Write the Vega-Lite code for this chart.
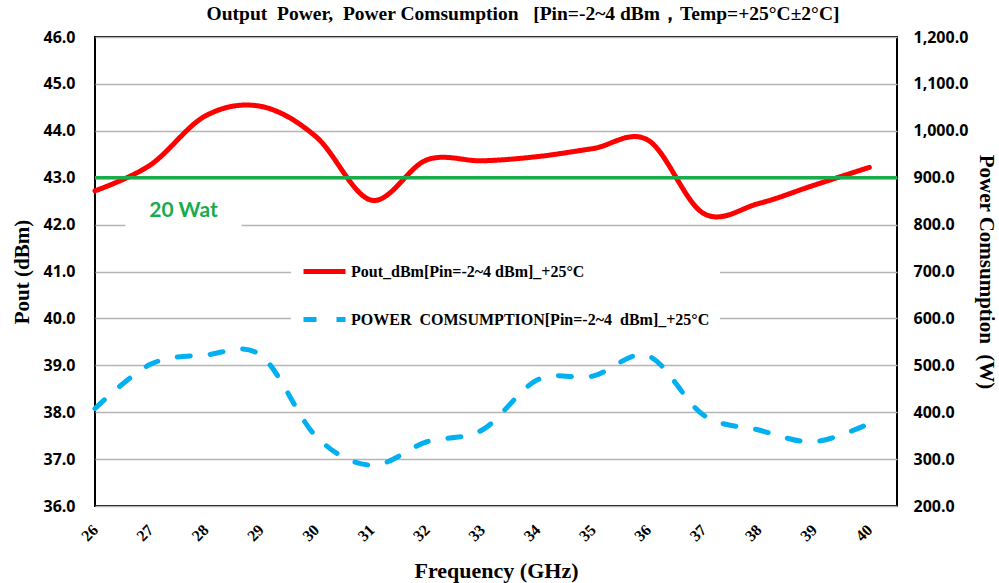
{
  "$schema": "https://vega.github.io/schema/vega-lite/v6.json",
  "width": 802,
  "height": 469,
  "autosize": {"type": "none"},
  "padding": {"left": 95, "top": 37, "right": 102, "bottom": 77},
  "background": "white",
  "title": {
    "text": "Output\u00a0 Power,\u00a0 Power Comsumption\u00a0\u00a0 [Pin=-2~4 dBm，Temp=+25°C±2°C]",
    "font": "Liberation Serif",
    "fontSize": 19.5,
    "fontWeight": "bold",
    "color": "#000000",
    "anchor": "middle",
    "dx": 27,
    "offset": 5
  },
  "datasets": {
    "pout": [
      {"freq": 26, "value": 42.72, "series": "Pout_dBm[Pin=-2~4 dBm]_+25°C"},
      {"freq": 27, "value": 43.27, "series": "Pout_dBm[Pin=-2~4 dBm]_+25°C"},
      {"freq": 28, "value": 44.32, "series": "Pout_dBm[Pin=-2~4 dBm]_+25°C"},
      {"freq": 29, "value": 44.52, "series": "Pout_dBm[Pin=-2~4 dBm]_+25°C"},
      {"freq": 30, "value": 43.87, "series": "Pout_dBm[Pin=-2~4 dBm]_+25°C"},
      {"freq": 31, "value": 42.52, "series": "Pout_dBm[Pin=-2~4 dBm]_+25°C"},
      {"freq": 32, "value": 43.38, "series": "Pout_dBm[Pin=-2~4 dBm]_+25°C"},
      {"freq": 33, "value": 43.36, "series": "Pout_dBm[Pin=-2~4 dBm]_+25°C"},
      {"freq": 34, "value": 43.45, "series": "Pout_dBm[Pin=-2~4 dBm]_+25°C"},
      {"freq": 35, "value": 43.62, "series": "Pout_dBm[Pin=-2~4 dBm]_+25°C"},
      {"freq": 36, "value": 43.8, "series": "Pout_dBm[Pin=-2~4 dBm]_+25°C"},
      {"freq": 37, "value": 42.24, "series": "Pout_dBm[Pin=-2~4 dBm]_+25°C"},
      {"freq": 38, "value": 42.45, "series": "Pout_dBm[Pin=-2~4 dBm]_+25°C"},
      {"freq": 39, "value": 42.84, "series": "Pout_dBm[Pin=-2~4 dBm]_+25°C"},
      {"freq": 40, "value": 43.22, "series": "Pout_dBm[Pin=-2~4 dBm]_+25°C"}
    ],
    "power": [
      {"freq": 26, "value": 408, "series": "POWER\u00a0 COMSUMPTION[Pin=-2~4\u00a0 dBm]_+25°C"},
      {"freq": 27, "value": 502, "series": "POWER\u00a0 COMSUMPTION[Pin=-2~4\u00a0 dBm]_+25°C"},
      {"freq": 28, "value": 522, "series": "POWER\u00a0 COMSUMPTION[Pin=-2~4\u00a0 dBm]_+25°C"},
      {"freq": 29, "value": 521, "series": "POWER\u00a0 COMSUMPTION[Pin=-2~4\u00a0 dBm]_+25°C"},
      {"freq": 30, "value": 348, "series": "POWER\u00a0 COMSUMPTION[Pin=-2~4\u00a0 dBm]_+25°C"},
      {"freq": 31, "value": 287, "series": "POWER\u00a0 COMSUMPTION[Pin=-2~4\u00a0 dBm]_+25°C"},
      {"freq": 32, "value": 337, "series": "POWER\u00a0 COMSUMPTION[Pin=-2~4\u00a0 dBm]_+25°C"},
      {"freq": 33, "value": 362, "series": "POWER\u00a0 COMSUMPTION[Pin=-2~4\u00a0 dBm]_+25°C"},
      {"freq": 34, "value": 469, "series": "POWER\u00a0 COMSUMPTION[Pin=-2~4\u00a0 dBm]_+25°C"},
      {"freq": 35, "value": 477, "series": "POWER\u00a0 COMSUMPTION[Pin=-2~4\u00a0 dBm]_+25°C"},
      {"freq": 36, "value": 520, "series": "POWER\u00a0 COMSUMPTION[Pin=-2~4\u00a0 dBm]_+25°C"},
      {"freq": 37, "value": 394, "series": "POWER\u00a0 COMSUMPTION[Pin=-2~4\u00a0 dBm]_+25°C"},
      {"freq": 38, "value": 362, "series": "POWER\u00a0 COMSUMPTION[Pin=-2~4\u00a0 dBm]_+25°C"},
      {"freq": 39, "value": 337, "series": "POWER\u00a0 COMSUMPTION[Pin=-2~4\u00a0 dBm]_+25°C"},
      {"freq": 40, "value": 376, "series": "POWER\u00a0 COMSUMPTION[Pin=-2~4\u00a0 dBm]_+25°C"}
    ]
  },
  "config": {
    "view": {"stroke": "#000000", "strokeWidth": 2},
    "legend": {
      "orient": "none",
      "legendX": 196,
      "legendY": 201,
      "symbolType": "stroke",
      "symbolSize": 1764,
      "symbolStrokeWidth": 5,
      "labelFont": "Liberation Serif",
      "labelFontSize": 16,
      "labelFontWeight": "bold",
      "labelColor": "#000000",
      "labelLimit": 600,
      "labelOffset": 3,
      "rowPadding": 14,
      "padding": 10,
      "fillColor": "white",
      "strokeColor": null,
      "title": null
    }
  },
  "layer": [
    {
      "layer": [
        {
          "data": {"values": [{}]},
          "mark": {"type": "rect", "fill": "white"},
          "encoding": {
            "x": {"datum": 26.55, "type": "quantitative"},
            "x2": {"datum": 28.65},
            "y": {"datum": 41.8, "type": "quantitative"},
            "y2": {"datum": 42.45}
          }
        },
        {
          "data": {"values": [{}]},
          "mark": {"type": "text", "text": "20 Wat", "font": "Lato", "fontSize": 21, "fontWeight": "bold", "color": "#1aab4b", "align": "center", "baseline": "alphabetic"},
          "encoding": {
            "x": {"datum": 27.6, "type": "quantitative"},
            "y": {"datum": 42.16, "type": "quantitative"}
          }
        },
        {
          "data": {"name": "pout"},
          "mark": {"type": "line", "interpolate": "cardinal", "strokeWidth": 5, "strokeCap": "round"},
          "encoding": {
            "x": {
              "field": "freq",
              "type": "quantitative",
              "scale": {"domain": [26, 40.5], "nice": false, "zero": false},
              "axis": {
                "values": [26, 27, 28, 29, 30, 31, 32, 33, 34, 35, 36, 37, 38, 39, 40],
                "format": "d",
                "labelAngle": -45,
                "labelAlign": "right",
                "labelBaseline": "middle",
                "labelFont": "Liberation Serif",
                "labelFontSize": 16,
                "labelFontWeight": "bold",
                "labelColor": "#000000",
                "labelPadding": 21,
                "ticks": false,
                "grid": false,
                "domain": false,
                "title": "Frequency (GHz)",
                "titleFont": "Liberation Serif",
                "titleFontSize": 22,
                "titleFontWeight": "bold",
                "titleColor": "#000000",
                "titlePadding": 17
              }
            },
            "y": {
              "field": "value",
              "type": "quantitative",
              "scale": {"domain": [36, 46], "nice": false, "zero": false},
              "axis": {
                "values": [36, 37, 38, 39, 40, 41, 42, 43, 44, 45, 46],
                "format": ".1f",
                "grid": true,
                "gridColor": "#b5b5b5",
                "gridWidth": 1.5,
                "ticks": false,
                "domain": false,
                "labelFont": "Open Sans",
                "labelFontSize": 16,
                "labelFontWeight": "bold",
                "labelColor": "#000000",
                "labelPadding": 20,
                "title": "Pout (dBm)",
                "titleFont": "Liberation Serif",
                "titleFontSize": 21,
                "titleFontWeight": "bold",
                "titleColor": "#000000",
                "titlePadding": 10
              }
            },
            "color": {
              "field": "series",
              "type": "nominal",
              "scale": {
                "domain": ["Pout_dBm[Pin=-2~4 dBm]_+25°C", "POWER\u00a0 COMSUMPTION[Pin=-2~4\u00a0 dBm]_+25°C"],
                "range": ["#ff0000", "#00b0f0"]
              }
            },
            "strokeDash": {
              "field": "series",
              "type": "nominal",
              "scale": {
                "domain": ["Pout_dBm[Pin=-2~4 dBm]_+25°C", "POWER\u00a0 COMSUMPTION[Pin=-2~4\u00a0 dBm]_+25°C"],
                "range": [[1, 0], [13, 20]]
              }
            }
          }
        },
        {
          "data": {"values": [{}]},
          "mark": {"type": "rule", "color": "#1aab4b", "strokeWidth": 3.5},
          "encoding": {
            "y": {"datum": 43, "type": "quantitative"}
          }
        }
      ]
    },
    {
      "data": {"name": "power"},
      "mark": {"type": "line", "interpolate": "cardinal", "strokeWidth": 5, "strokeCap": "round"},
      "encoding": {
        "x": {"field": "freq", "type": "quantitative"},
        "y": {
          "field": "value",
          "type": "quantitative",
          "scale": {"domain": [200, 1200], "nice": false, "zero": false},
          "axis": {
            "orient": "right",
            "values": [200, 300, 400, 500, 600, 700, 800, 900, 1000, 1100, 1200],
            "format": ",.1f",
            "grid": false,
            "ticks": false,
            "domain": false,
            "labelFont": "Open Sans",
            "labelFontSize": 16,
            "labelFontWeight": "bold",
            "labelColor": "#000000",
            "labelPadding": 16,
            "title": "Power Comsumption\u00a0 (W)",
            "titleFont": "Liberation Serif",
            "titleFontSize": 21,
            "titleFontWeight": "bold",
            "titleColor": "#000000",
            "titlePadding": 8
          }
        },
        "color": {"field": "series", "type": "nominal"},
        "strokeDash": {"field": "series", "type": "nominal"}
      }
    }
  ],
  "resolve": {"scale": {"y": "independent"}}
}
